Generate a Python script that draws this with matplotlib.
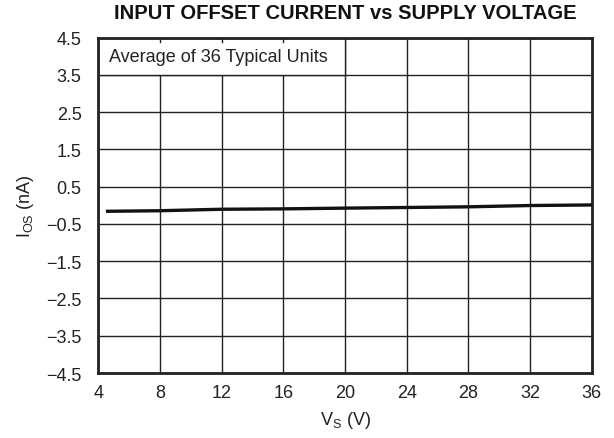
import matplotlib
import matplotlib.pyplot as plt
from matplotlib.patches import Rectangle

matplotlib.use("Agg")

plt.rcParams["font.family"] = ["Liberation Sans", "DejaVu Sans"]
plt.rcParams["mathtext.fontset"] = "custom"
plt.rcParams["mathtext.rm"] = "Liberation Sans"

# supply voltage (V) vs input offset current (nA)
vs = [4.5, 8, 12, 16, 20, 24, 28, 32, 36]
ios = [-0.16, -0.145, -0.105, -0.095, -0.075, -0.058, -0.04, -0.005, 0.01]

x_ticks = [4, 8, 12, 16, 20, 24, 28, 32, 36]
y_ticks = [-4.5, -3.5, -2.5, -1.5, -0.5, 0.5, 1.5, 2.5, 3.5, 4.5]

fig = plt.figure(figsize=(6.14, 4.39), dpi=100)
ax = fig.add_axes([0.16, 0.148, 0.804, 0.764])

ax.plot(vs, ios, color="#111111", linewidth=2.4, solid_capstyle="butt", zorder=3)

ax.set_xlim(4, 36)
ax.set_ylim(-4.5, 4.5)
ax.set_xticks(x_ticks)
ax.set_yticks(y_ticks)
ax.set_yticklabels([f"{v:.1f}".replace("-", "\u2212") for v in y_ticks])
ax.grid(True, color="#222222", linewidth=1.0)
ax.set_axisbelow(True)
ax.tick_params(length=0, labelsize=13, colors="#222222")
ax.tick_params(axis="x", pad=8)
ax.tick_params(axis="y", pad=12)
for spine in ax.spines.values():
    spine.set_linewidth(2.0)
    spine.set_color("#222222")

# legend cell covering the top-left grid block
ax.add_patch(Rectangle((4, 3.5), 16, 1.0, facecolor="white", edgecolor="#222222",
                       linewidth=1.0, zorder=1.5))
ax.text(4.7, 4.0, "Average of 36 Typical Units", fontsize=13, color="#222222",
        va="center", ha="left", zorder=2)
# short grid stubs along the top edge of the cell
for xt in x_ticks[1:4]:
    ax.plot([xt, xt], [4.5, 4.39], color="#222222", linewidth=1.0, zorder=2)

ax.set_xlabel(r"V$_\mathregular{S}$ (V)", fontsize=13, color="#222222", labelpad=6)
ax.set_ylabel(r"I$_\mathregular{OS}$ (nA)", fontsize=13, color="#222222", labelpad=7)
ax.set_title("INPUT OFFSET CURRENT vs SUPPLY VOLTAGE", fontsize=14.5,
             fontweight="bold", color="#111111", pad=14)

fig.savefig("out.png", dpi=100)
